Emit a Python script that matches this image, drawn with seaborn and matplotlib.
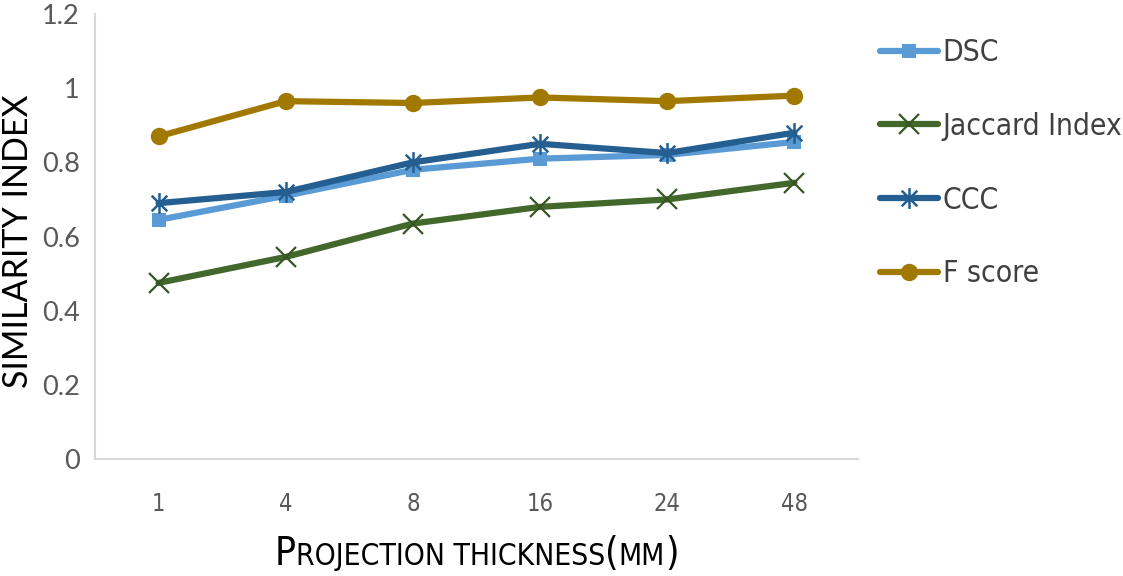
import matplotlib
matplotlib.use("Agg")
import matplotlib.pyplot as plt
import seaborn as sns
import pandas as pd
from matplotlib.path import Path
from matplotlib.offsetbox import TextArea, HPacker, AnnotationBbox
from matplotlib.font_manager import FontProperties

categories = ["1", "4", "8", "16", "24", "48"]
dsc = [0.645, 0.71, 0.78, 0.81, 0.82, 0.855]
jaccard = [0.475, 0.545, 0.635, 0.68, 0.70, 0.745]
ccc = [0.69, 0.72, 0.80, 0.85, 0.825, 0.88]
fscore = [0.87, 0.965, 0.96, 0.975, 0.965, 0.98]
series_names = ["DSC", "Jaccard Index", "CCC", "F score"]
y_ticks = [0, 0.2, 0.4, 0.6, 0.8, 1.0, 1.2]
y_tick_labels = ["0", "0.2", "0.4", "0.6", "0.8", "1", "1.2"]

sns.set_theme(style="white")
plt.rcParams["font.family"] = ["Lato", "DejaVu Sans"]

def narrow(size):
    return FontProperties(family="DejaVu Sans", stretch="condensed", size=size)

star = Path([(0, -1), (0, 1), (-0.75, -0.75), (0.75, 0.75), (-0.75, 0.75), (0.75, -0.75)],
            [Path.MOVETO, Path.LINETO, Path.MOVETO, Path.LINETO, Path.MOVETO, Path.LINETO])

styles = {
    "DSC": dict(color="#5B9BD5", marker="s", markersize=10.5, mec="#5B9BD5", mew=0),
    "Jaccard Index": dict(color="#43682B", marker="x", markersize=15, mec="#375623", mew=1.6),
    "CCC": dict(color="#255E91", marker=star, markersize=15, mec="#255E91", mew=1.8),
    "F score": dict(color="#A27900", marker="o", markersize=12.5, mec="#A27900", mew=0),
}

df = pd.DataFrame({
    "thickness": categories * 4,
    "value": dsc + jaccard + ccc + fscore,
    "series": sum([[s] * len(categories) for s in series_names], []),
})

fig = plt.figure(figsize=(11.23, 5.76), dpi=100)
ax = fig.add_axes([0.0846, 0.203, 0.764 - 0.0846, 0.9757 - 0.203])

for name in series_names:
    st = styles[name]
    sub = df[df["series"] == name]
    sns.lineplot(data=sub, x="thickness", y="value", ax=ax, color=st["color"],
                 marker=st["marker"], markersize=st["markersize"],
                 markeredgecolor=st["mec"], markeredgewidth=st["mew"],
                 linewidth=4.5, label=name, sort=False, solid_capstyle="round")

ax.set_xlim(-0.5, 5.5)
ax.set_ylim(0, 1.2)
ax.set_yticks(y_ticks)
ax.set_yticklabels(y_tick_labels, color="#595959", fontsize=19.5, family=["Lato", "DejaVu Sans"])
ax.tick_params(axis="y", length=0, pad=11)
ax.tick_params(axis="x", length=0, pad=24)
for lab in ax.get_xticklabels():
    lab.set_fontproperties(narrow(17))
    lab.set_color("#595959")
for s in ["top", "right"]:
    ax.spines[s].set_visible(False)
for s in ["left", "bottom"]:
    ax.spines[s].set_color("#D9D9D9")
    ax.spines[s].set_linewidth(1.5)
ax.set_xlabel("")
ax.set_ylabel("SIMILARITY INDEX", fontsize=24.5, color="black",
              family=["Lato", "DejaVu Sans"])
ax.yaxis.set_label_coords(-0.08, 0.49)

leg = ax.legend(loc="upper left", bbox_to_anchor=(0.7836, 0.934), bbox_transform=fig.transFigure,
                frameon=False, handlelength=1.95, handletextpad=0.15, labelspacing=1.5,
                borderpad=0, borderaxespad=0, prop=narrow(21.5))
for t in leg.get_texts():
    t.set_color("#404040")

parts = [("P", 28), ("ROJECTION THICKNESS", 21.5), ("(", 28), ("MM", 21.5), (")", 28)]
boxes = [TextArea(t, textprops=dict(fontproperties=narrow(s), color="black")) for t, s in parts]
pack = HPacker(children=boxes, align="baseline", pad=0, sep=0)
ab = AnnotationBbox(pack, (0.4243, 0.006), xycoords="figure fraction", frameon=False,
                    box_alignment=(0.5, 0))
fig.add_artist(ab)

fig.savefig("out.png", dpi=100)
